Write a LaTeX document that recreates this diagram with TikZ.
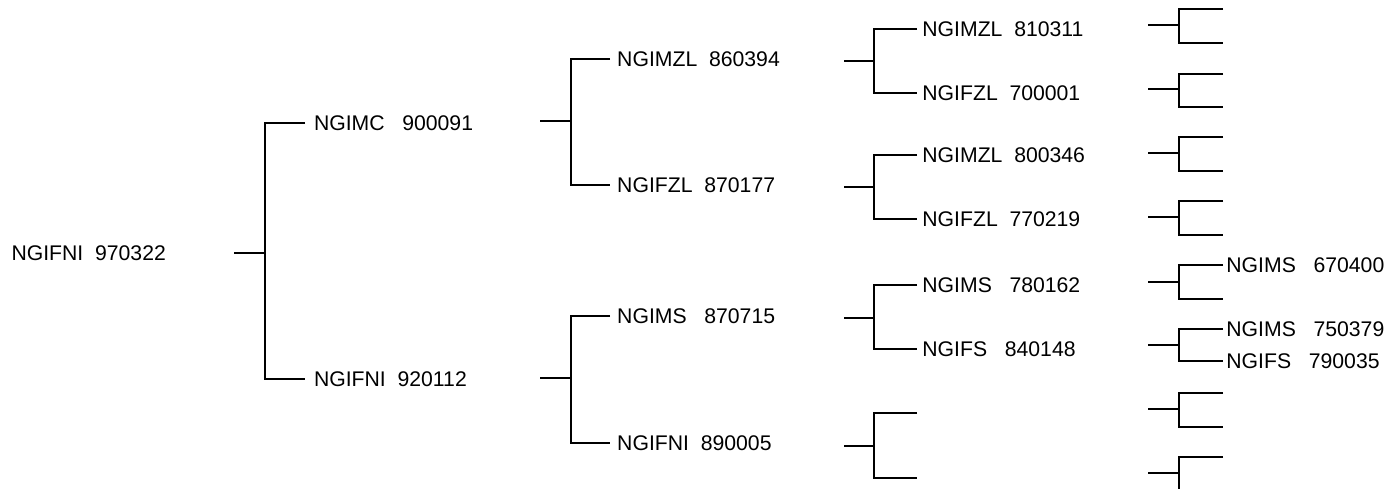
\documentclass[tikz,border=0pt]{standalone}
\usepackage{fontspec}
\setmainfont{Liberation Sans}
\begin{document}
\begin{tikzpicture}[x=0.5pt,y=-0.5pt,line width=1pt,line join=miter,
  lbl/.style={anchor=west,inner ysep=0pt,font=\fontsize{10.6}{12}\selectfont},
  lone/.style={lbl,inner xsep=4pt},
  ltwo/.style={lbl,inner xsep=3.1pt},
  lthree/.style={lbl,inner xsep=2.2pt},
  lfour/.style={lbl,inner xsep=1.2pt},
  branch/.style={draw,line width=1pt}]
\useasboundingbox (0,0) rectangle (1387,488);
\clip (0,0) rectangle (1387,488);

% root
\node[lbl,inner xsep=0pt] (root) at (10.5,253) {NGIFNI~~970322};
\coordinate (s0) at (234,253);
\coordinate (j0) at (265,253);

% level 1
\node[lone] (a1) at (305,123) {NGIMC~~~900091};
\node[lone] (a2) at (305,379) {NGIFNI~~920112};
\coordinate (sa1) at (540,121); \coordinate (ja1) at (571,121);
\coordinate (sa2) at (540,378); \coordinate (ja2) at (571,378);

% level 2
\node[ltwo] (b1) at (610,59)  {NGIMZL~~860394};
\node[ltwo] (b2) at (610,185) {NGIFZL~~870177};
\node[ltwo] (b3) at (610,316) {NGIMS~~~870715};
\node[ltwo] (b4) at (610,443) {NGIFNI~~890005};
\coordinate (sb1) at (844,61);  \coordinate (jb1) at (874,61);
\coordinate (sb2) at (844,187); \coordinate (jb2) at (874,187);
\coordinate (sb3) at (844,318); \coordinate (jb3) at (874,318);
\coordinate (sb4) at (844,446); \coordinate (jb4) at (874,446);

% level 3
\node[lthree] (c1) at (917,29)  {NGIMZL~~810311};
\node[lthree] (c2) at (917,93)  {NGIFZL~~700001};
\node[lthree] (c3) at (917,155) {NGIMZL~~800346};
\node[lthree] (c4) at (917,219) {NGIFZL~~770219};
\node[lthree] (c5) at (917,285) {NGIMS~~~780162};
\node[lthree] (c6) at (917,349) {NGIFS~~~840148};
\coordinate (c7) at (917,413);
\coordinate (c8) at (917,478);
\foreach \i/\y in {1/25,2/89,3/153,4/217,5/282,6/345,7/409,8/473}{
  \coordinate (sc\i) at (1148,\y);
  \coordinate (jc\i) at (1179,\y);
}

% level 4
\coordinate (d1) at (1223,9);   \coordinate (d2) at (1223,43);
\coordinate (d3) at (1223,74);  \coordinate (d4) at (1223,107);
\coordinate (d5) at (1223,137); \coordinate (d6) at (1223,171);
\coordinate (d7) at (1223,201); \coordinate (d8) at (1223,235);
\node[lfour] (d9) at (1223,265) {NGIMS~~~670400};
\coordinate (d10) at (1223,299);
\node[lfour] (d11) at (1223,329) {NGIMS~~~750379};
\node[lfour] (d12) at (1223,361) {NGIFS~~~790035};
\coordinate (d13) at (1223,393); \coordinate (d14) at (1223,427);
\coordinate (d15) at (1223,457); \coordinate (d16) at (1223,491);

% connectors
\draw[branch] (s0) -- (j0);
\draw[branch] (a1.west) -| (j0) |- (a2.west);

\draw[branch] (sa1) -- (ja1);
\draw[branch] (b1.west) -| (ja1) |- (b2.west);
\draw[branch] (sa2) -- (ja2);
\draw[branch] (b3.west) -| (ja2) |- (b4.west);

\draw[branch] (sb1) -- (jb1);
\draw[branch] (c1.west) -| (jb1) |- (c2.west);
\draw[branch] (sb2) -- (jb2);
\draw[branch] (c3.west) -| (jb2) |- (c4.west);
\draw[branch] (sb3) -- (jb3);
\draw[branch] (c5.west) -| (jb3) |- (c6.west);
\draw[branch] (sb4) -- (jb4);
\draw[branch] (c7) -| (jb4) |- (c8);

\foreach \i in {1,...,8}{ \draw[branch] (sc\i) -- (jc\i); }
\draw[branch] (d1) -| (jc1) |- (d2);
\draw[branch] (d3) -| (jc2) |- (d4);
\draw[branch] (d5) -| (jc3) |- (d6);
\draw[branch] (d7) -| (jc4) |- (d8);
\draw[branch] (d9.west) -| (jc5) |- (d10);
\draw[branch] (d11.west) -| (jc6) |- (d12.west);
\draw[branch] (d13) -| (jc7) |- (d14);
\draw[branch] (d15) -| (jc8) |- (d16);
\end{tikzpicture}
\end{document}
